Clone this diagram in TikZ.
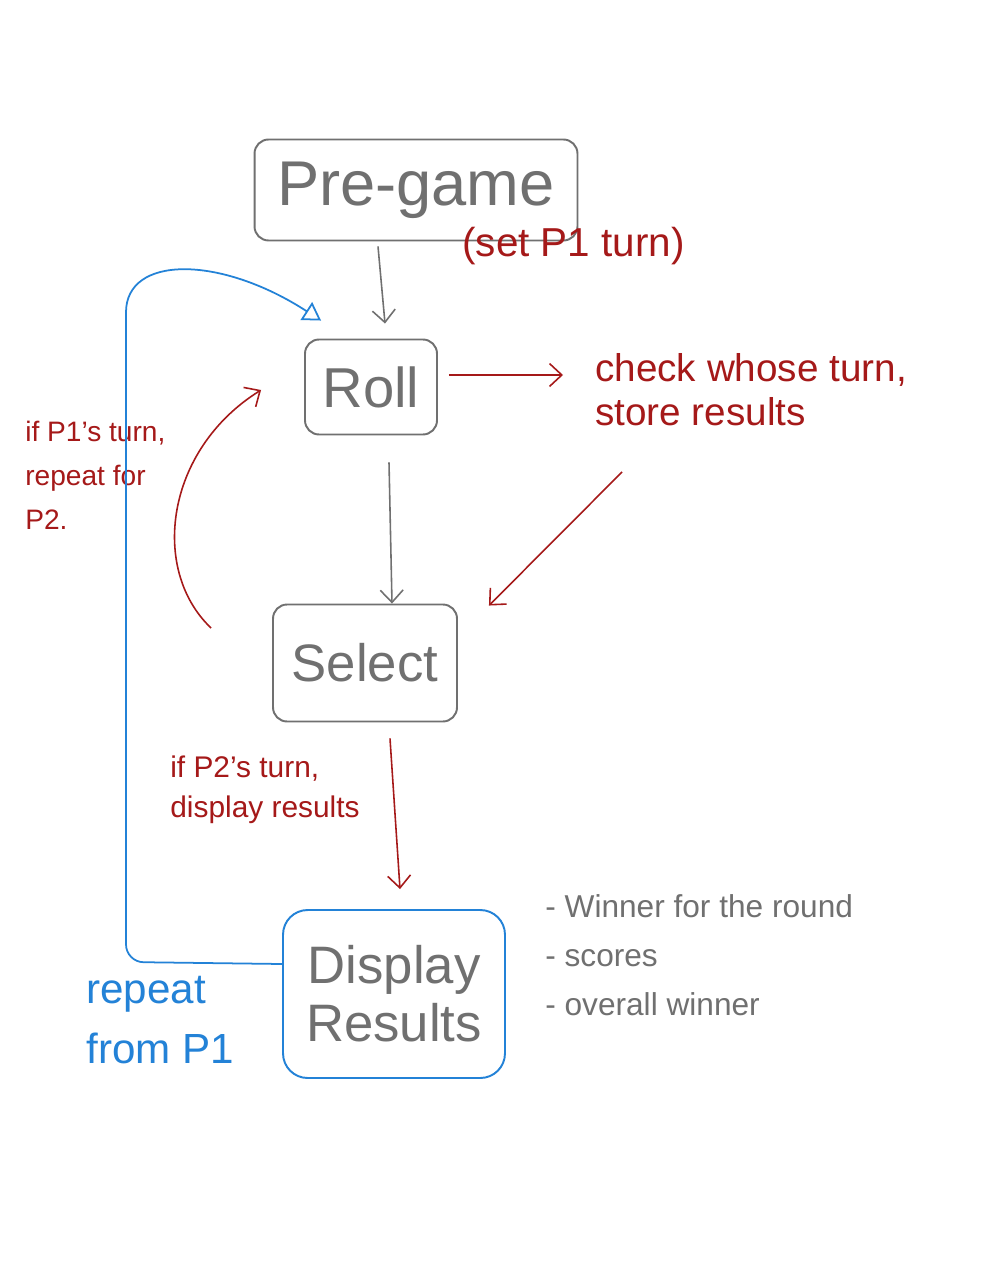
\documentclass[tikz,border=0pt]{standalone}
\usepackage{fontspec}
\setmainfont{Liberation Sans}
\usetikzlibrary{arrows.meta}
\definecolor{pen}{RGB}{112,112,112}
\definecolor{ink}{RGB}{165,25,25}
\definecolor{bluepen}{RGB}{35,130,215}
\begin{document}
\begin{tikzpicture}[x=0.02cm,y=-0.02cm,
  box/.style={draw=pen, line width=1.1pt, rounded corners=8pt, text=pen, inner sep=0pt},
  redtxt/.style={text=ink, align=left, inner sep=0pt},
  arr/.style={-{Straight Barb[length=7pt,width=13pt]}, line width=0.9pt}]
\fill[white] (0,0) rectangle (991,1280);
\useasboundingbox (0,0) rectangle (991,1280);

% boxes
\node[box, minimum width=6.46cm, minimum height=2.02cm, font=\fontsize{36}{40}\selectfont] (pre) at (416,190) {Pre-game};
\node[box, minimum width=2.64cm, minimum height=1.9cm, font=\fontsize{32}{36}\selectfont] (roll) at (371,387) {Roll};
\node[box, minimum width=3.68cm, minimum height=2.34cm, font=\fontsize{30}{36}\selectfont] (select) at (365,663) {Select};
\node[box, draw=bluepen, minimum width=4.44cm, minimum height=3.36cm, rounded corners=14pt, align=center, font=\fontsize{30}{33}\selectfont] (disp) at (394,994) {Display\\Results};

% labels
\node[redtxt, anchor=west, font=\fontsize{23}{25}\selectfont] (setp) at (462,246) {(set P1 turn)};
\node[redtxt, anchor=west, font=\fontsize{22}{25}\selectfont] (check) at (595,390) {check whose turn,\\store results};
\node[redtxt, anchor=west, font=\fontsize{16}{25}\selectfont] (p1) at (25,475) {if P1's turn,\\repeat for\\P2.};
\node[redtxt, anchor=west, font=\fontsize{17}{23}\selectfont] (p2) at (170,790) {if P2's turn,\\display results};
\node[text=bluepen, align=left, inner sep=0pt, anchor=west, font=\fontsize{24}{34}\selectfont] (rep) at (86,1020) {repeat\\from P1};
\node[text=pen, align=left, inner sep=0pt, anchor=west, font=\fontsize{18}{28}\selectfont] (list) at (545,955) {- Winner for the round\\- scores\\- overall winner};

% connectors
\draw[arr, pen] ([shift={(-38,5)}]pre.south) -- ([shift={(14,-15)}]roll.north);
\draw[arr, pen] ([shift={(18,27)}]roll.south) -- ([shift={(27,0)}]select.north);
\draw[arr, ink] ([shift={(11,-12)}]roll.east) -- ([shift={(-32,-15)}]check.west);
\draw[arr, ink] ([shift={(27,82)}]check.west) -- ([shift={(31,2)}]select.north east);
\draw[arr, ink] ([shift={(-61,-35)}]select.west) .. controls (150,570) and (165,450) .. ([shift={(-43,3)}]roll.west);
\draw[arr, ink] ([shift={(25,16)}]select.south) -- ([shift={(6,-20)}]disp.north);
\draw[bluepen, line width=1pt, rounded corners=10pt, -{Triangle[open,length=10pt,width=12pt]}]
  ([shift={(0,-30)}]disp.west) -- (126,962) -- (126,330) .. controls (126,255) and (220,255) .. ([shift={(17,-18)}]roll.north west);
\end{tikzpicture}
\end{document}
